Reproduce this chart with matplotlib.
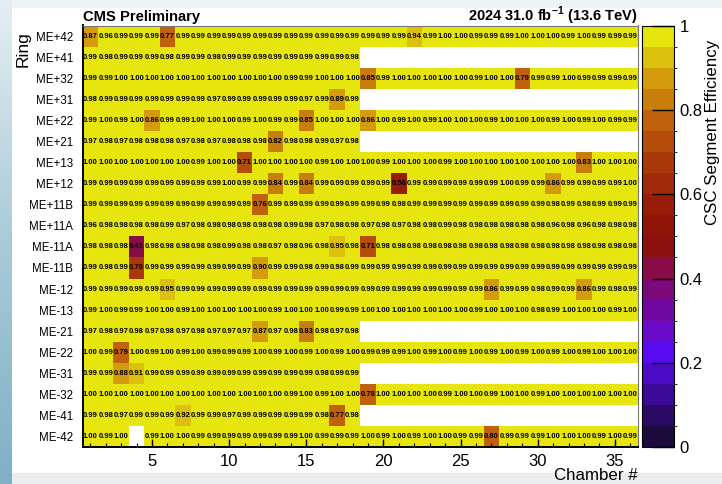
import numpy as np
import matplotlib
matplotlib.use("Agg")
import matplotlib.pyplot as plt
from matplotlib.colors import ListedColormap, BoundaryNorm, LinearSegmentedColormap
from matplotlib.cm import ScalarMappable

plt.rcParams['font.family'] = ['Liberation Sans', 'DejaVu Sans']
plt.rcParams['mathtext.fontset'] = 'custom'
plt.rcParams['mathtext.rm'] = 'Liberation Sans'
plt.rcParams['mathtext.bf'] = 'Liberation Sans:bold'

nan = np.nan
rings = ['ME+42', 'ME+41', 'ME+32', 'ME+31', 'ME+22', 'ME+21', 'ME+13', 'ME+12',
         'ME+11B', 'ME+11A', 'ME-11A', 'ME-11B', 'ME-12', 'ME-13', 'ME-21', 'ME-22',
         'ME-31', 'ME-32', 'ME-41', 'ME-42']

# efficiency per chamber, rings with 18 chambers stop at 18
me_p42 = [0.87, 0.96, 0.99, 0.99, 0.99, 0.77, 0.99, 0.99, 0.99, 0.99,
          0.99, 0.99, 0.99, 0.99, 0.99, 0.99, 0.99, 0.99, 0.99, 0.99,
          0.99, 0.94, 0.99, 1.00, 1.00, 0.99, 0.99, 0.99, 1.00, 1.00,
          1.00, 0.99, 1.00, 0.99, 0.99, 0.99]
me_p41 = [0.99, 0.98, 0.99, 0.99, 0.99, 0.98, 0.99, 0.99, 0.98, 0.99,
          0.99, 0.99, 0.99, 0.99, 0.99, 0.99, 0.99, 0.98]
me_p32 = [0.99, 0.99, 1.00, 1.00, 1.00, 1.00, 1.00, 1.00, 1.00, 1.00,
          1.00, 1.00, 1.00, 0.99, 0.99, 1.00, 1.00, 1.00, 0.85, 0.99,
          1.00, 1.00, 1.00, 1.00, 1.00, 0.99, 1.00, 1.00, 0.79, 0.99,
          0.99, 1.00, 0.99, 0.99, 0.99, 0.99]
me_p31 = [0.98, 0.99, 0.99, 0.99, 0.99, 0.99, 0.99, 0.99, 0.97, 0.99,
          0.99, 0.99, 0.99, 0.99, 0.97, 0.99, 0.89, 0.99]
me_p22 = [0.99, 1.00, 0.99, 1.00, 0.86, 0.99, 0.99, 1.00, 1.00, 1.00,
          0.99, 1.00, 0.99, 0.99, 0.85, 1.00, 1.00, 1.00, 0.86, 1.00,
          0.99, 1.00, 0.99, 1.00, 1.00, 1.00, 0.99, 1.00, 1.00, 1.00,
          0.99, 1.00, 0.99, 1.00, 0.99, 0.99]
me_p21 = [0.97, 0.98, 0.97, 0.98, 0.98, 0.98, 0.97, 0.98, 0.97, 0.98,
          0.98, 0.98, 0.82, 0.98, 0.98, 0.99, 0.97, 0.98]
me_p13 = [1.00, 1.00, 1.00, 1.00, 1.00, 1.00, 1.00, 0.99, 1.00, 1.00,
          0.71, 1.00, 1.00, 1.00, 1.00, 0.99, 1.00, 1.00, 1.00, 0.99,
          1.00, 1.00, 1.00, 0.99, 1.00, 1.00, 1.00, 1.00, 1.00, 1.00,
          1.00, 1.00, 0.83, 1.00, 1.00, 1.00]
me_p12 = [0.99, 0.99, 0.99, 0.99, 0.99, 0.99, 0.99, 0.99, 0.99, 1.00,
          0.99, 0.99, 0.84, 0.99, 0.84, 0.99, 0.99, 0.99, 0.99, 0.99,
          0.56, 0.99, 0.99, 0.99, 0.99, 0.99, 0.99, 1.00, 0.99, 0.99,
          0.86, 0.99, 0.99, 0.99, 0.99, 1.00]
me_p11b = [0.99, 0.99, 0.99, 0.99, 0.99, 0.99, 0.99, 0.99, 0.99, 0.99,
           0.99, 0.76, 0.99, 0.99, 0.99, 0.99, 0.99, 0.99, 0.99, 0.99,
           0.98, 0.99, 0.99, 0.99, 0.99, 0.99, 0.99, 0.99, 0.99, 0.99,
           0.98, 0.99, 0.98, 0.99, 0.99, 0.99]
me_p11a = [0.96, 0.98, 0.98, 0.98, 0.98, 0.99, 0.97, 0.98, 0.98, 0.98,
           0.98, 0.98, 0.98, 0.99, 0.98, 0.97, 0.98, 0.98, 0.97, 0.98,
           0.97, 0.98, 0.98, 0.99, 0.98, 0.98, 0.98, 0.98, 0.98, 0.98,
           0.96, 0.98, 0.96, 0.98, 0.98, 0.98]
me_m11a = [0.98, 0.98, 0.98, 0.41, 0.98, 0.98, 0.98, 0.98, 0.98, 0.99,
           0.98, 0.98, 0.97, 0.98, 0.96, 0.98, 0.95, 0.98, 0.71, 0.98,
           0.98, 0.98, 0.98, 0.98, 0.98, 0.98, 0.98, 0.98, 0.98, 0.98,
           0.98, 0.98, 0.98, 0.98, 0.98, 0.98]
me_m11b = [0.99, 0.98, 0.99, 0.70, 0.99, 0.99, 0.99, 0.99, 0.99, 0.99,
           0.99, 0.90, 0.99, 0.99, 0.98, 0.99, 0.98, 0.99, 0.99, 0.99,
           0.99, 0.99, 0.99, 0.99, 0.99, 0.99, 0.99, 0.99, 0.99, 0.99,
           0.99, 0.99, 0.99, 0.99, 0.99, 0.99]
me_m12 = [0.99, 0.99, 0.99, 0.99, 0.99, 0.95, 0.99, 0.99, 0.99, 0.99,
          0.99, 0.99, 0.99, 0.99, 0.99, 0.99, 0.99, 0.99, 0.99, 0.99,
          0.99, 0.99, 0.99, 0.99, 0.99, 0.99, 0.86, 0.99, 0.99, 0.98,
          0.99, 0.99, 0.86, 0.99, 0.98, 0.99]
me_m13 = [0.99, 1.00, 0.99, 0.99, 1.00, 1.00, 0.99, 1.00, 1.00, 1.00,
          1.00, 1.00, 0.99, 1.00, 1.00, 1.00, 0.99, 0.99, 1.00, 1.00,
          1.00, 1.00, 1.00, 1.00, 1.00, 0.99, 1.00, 1.00, 1.00, 0.98,
          0.99, 1.00, 1.00, 1.00, 0.99, 1.00]
me_m21 = [0.97, 0.98, 0.97, 0.98, 0.97, 0.98, 0.97, 0.98, 0.97, 0.97,
          0.97, 0.87, 0.97, 0.98, 0.83, 0.98, 0.97, 0.98]
me_m22 = [1.00, 0.99, 0.79, 1.00, 0.99, 1.00, 0.99, 1.00, 0.99, 0.99,
          0.99, 1.00, 0.99, 1.00, 0.99, 1.00, 0.99, 1.00, 0.99, 0.99,
          0.99, 1.00, 0.99, 1.00, 0.99, 1.00, 0.99, 1.00, 0.99, 1.00,
          0.99, 1.00, 0.99, 1.00, 1.00, 1.00]
me_m31 = [0.99, 0.99, 0.88, 0.91, 0.99, 0.99, 0.99, 0.99, 0.99, 0.99,
          0.99, 0.99, 0.99, 0.99, 0.99, 0.98, 0.99, 0.99]
me_m32 = [1.00, 1.00, 1.00, 1.00, 1.00, 1.00, 1.00, 1.00, 1.00, 1.00,
          1.00, 1.00, 1.00, 0.99, 1.00, 0.99, 1.00, 1.00, 0.78, 1.00,
          1.00, 1.00, 1.00, 0.99, 1.00, 1.00, 0.99, 1.00, 1.00, 0.99,
          1.00, 1.00, 1.00, 1.00, 1.00, 1.00]
me_m41 = [0.99, 0.98, 0.97, 0.99, 0.99, 0.99, 0.92, 0.99, 0.99, 0.97,
          0.99, 0.99, 0.99, 0.99, 0.99, 0.98, 0.77, 0.98]
me_m42 = [1.00, 0.99, 1.00, nan, 0.99, 1.00, 1.00, 0.99, 0.99, 0.99,
          0.99, 0.99, 0.99, 0.99, 1.00, 0.99, 0.99, 0.99, 1.00, 0.99,
          1.00, 0.99, 1.00, 1.00, 0.99, 0.99, 0.80, 0.99, 0.99, 0.99,
          1.00, 1.00, 1.00, 0.99, 1.00, 0.99]

all_rows = [me_p42, me_p41, me_p32, me_p31, me_p22, me_p21, me_p13, me_p12,
            me_p11b, me_p11a, me_m11a, me_m11b, me_m12, me_m13, me_m21, me_m22,
            me_m31, me_m32, me_m41, me_m42]
nch = 36
eff = np.full((len(rings), nch), nan)
for i, r in enumerate(all_rows):
    eff[i, :len(r)] = r

# 20-step palette, from 0 (bottom) to 1 (top)
pal = ['#1b0a3c', '#2b0a66', '#3b0a96', '#4a0ac6', '#5a0af0',
       '#680ac8', '#7208a2', '#7c0a7c', '#880c48', '#8c100c',
       '#901408', '#981c08', '#a02a0a', '#a8380a', '#b44c0a',
       '#c0620c', '#c97e0c', '#d49c0c', '#dcc00e', '#e6e60e']
cmap = ListedColormap(pal)
levels = np.linspace(0, 1, 21)
# printed values are rounded; one printed on a band edge sits just below it
cell_norm = BoundaryNorm(levels + 0.005, cmap.N, clip=True)

fig = plt.figure(figsize=(7.22, 4.84), dpi=100)
W, H = 722, 484

# screenshot margins
bg = fig.add_axes([0, 0, 12 / W, 1])
bg.imshow(np.linspace(0, 1, 100).reshape(-1, 1), aspect='auto',
          cmap=LinearSegmentedColormap.from_list('bgc', ['#e4eef2', '#a9cad8', '#7fb0c6']))
bg.axis('off')
fig.patches.append(plt.Rectangle((12 / W, 1 - 7 / H), 1, 7 / H, transform=fig.transFigure,
                                 color='#eef3f6', zorder=-1))
fig.patches.append(plt.Rectangle((12 / W, 0), 1, 11 / H, transform=fig.transFigure,
                                 color='#ebedef', zorder=-1))

ax = fig.add_axes([82.6 / W, 36.8 / H, 555.4 / W, 421.7 / H])
xe = np.arange(0.5, nch + 1, 1)
ye = np.arange(-0.5, len(rings), 1)
ax.pcolormesh(xe, ye, np.ma.masked_invalid(eff), cmap=cmap, norm=cell_norm,
              edgecolors='none', antialiased=False)
for i in range(len(rings)):
    for j in range(nch):
        if not np.isnan(eff[i, j]):
            ax.text(j + 1, i, f'{eff[i, j]:.2f}', ha='center', va='center',
                    fontsize=5.5, weight='bold', color='black')

ax.set_xlim(0.5, 36.5)
ax.set_ylim(len(rings) - 0.5, -0.5)
ax.set_xticks(range(5, 36, 5))
ax.set_xticks(range(1, 37), minor=True)
ax.tick_params(axis='x', which='major', direction='in', length=6, width=1,
               labelsize=12, pad=5)
ax.tick_params(axis='x', which='minor', direction='in', length=3, width=0.8)
ax.set_yticks(range(len(rings)))
ax.set_yticklabels(rings)
ax.tick_params(axis='y', length=0, labelsize=8.3, pad=7)
for s in ['left', 'bottom']:
    ax.spines[s].set_linewidth(1.4)
for s in ['top', 'right']:
    ax.spines[s].set_linewidth(0.8)
    ax.spines[s].set_color('#777777')

ax.text(0, 1.011, 'CMS Preliminary', transform=ax.transAxes, ha='left',
        va='baseline', fontsize=10.6, weight='bold')
ax.text(1, 1.011, r'2024 31.0 fb$^{\mathbf{-1}}$ (13.6 TeV)', transform=ax.transAxes,
        ha='right', va='baseline', fontsize=10.5, weight='bold')
fig.text(638 / W, 1 - 476 / H, 'Chamber #', ha='right', va='center', fontsize=12.2)
fig.text(23 / W, 1 - 31 / H, 'Ring', ha='center', va='top', rotation=90, fontsize=12.5)

cax = fig.add_axes([642.3 / W, 36.8 / H, 32 / W, 421.7 / H])
sm = ScalarMappable(norm=BoundaryNorm(levels, cmap.N), cmap=cmap)
cb = fig.colorbar(sm, cax=cax)
cb.set_ticks([0, 0.2, 0.4, 0.6, 0.8, 1.0])
cb.set_ticklabels(['0', '0.2', '0.4', '0.6', '0.8', '1'])
cax.tick_params(direction='in', length=16, width=1, labelsize=12, pad=4)
cb.outline.set_linewidth(0.8)
fig.text(712 / W, 1 - 40 / H, 'CSC Segment Efficiency', ha='center', va='top',
         rotation=90, fontsize=12.2)

fig.savefig('out.png', dpi=100)
